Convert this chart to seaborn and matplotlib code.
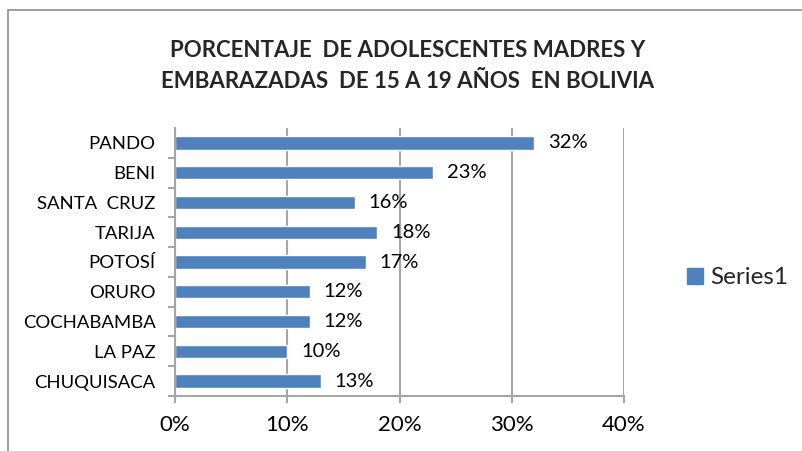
import numpy as np
import pandas as pd
import matplotlib
matplotlib.use("Agg")
import matplotlib.pyplot as plt
import seaborn as sns
from matplotlib.patches import Rectangle, Patch
from matplotlib.ticker import FuncFormatter

# datos (de arriba hacia abajo)
departamentos = ["PANDO", "BENI", "SANTA  CRUZ", "TARIJA", "POTOSÍ",
                 "ORURO", "COCHABAMBA", "LA PAZ", "CHUQUISACA"]
porcentajes = [32, 23, 16, 18, 17, 12, 12, 10, 13]
xticks = [0, 10, 20, 30, 40]
titulo = "PORCENTAJE  DE ADOLESCENTES MADRES Y\nEMBARAZADAS  DE 15 A 19 AÑOS  EN BOLIVIA"

df = pd.DataFrame({"departamento": departamentos, "porcentaje": porcentajes})

sns.set_theme(style="white")
plt.rcParams['font.family'] = ['Lato', 'DejaVu Sans']

azul = "#4F81BD"
gris = "#A6A6A6"

fig = plt.figure(figsize=(8.02, 4.51), dpi=100)
ax = fig.add_axes([175/802, 1-396/451, (624-175)/802, (396-128)/451])

sns.barplot(data=df, x="porcentaje", y="departamento", color=azul,
            width=0.45, saturation=1, ax=ax)

ax.set_xlim(0, 40)
ax.set_ylim(len(departamentos) - 0.5, -0.5)
ax.set_xticks(xticks)
ax.xaxis.set_major_formatter(FuncFormatter(lambda v, p: f"{int(v)}%"))
ax.set_xlabel("")
ax.set_ylabel("")

# rejilla vertical
ax.grid(axis="x", color=gris, linewidth=1.5)
ax.set_axisbelow(True)
for s in ["top", "right"]:
    ax.spines[s].set_visible(False)
for s in ["left", "bottom"]:
    ax.spines[s].set_color(gris)
    ax.spines[s].set_linewidth(1.5)

# marcas entre categorías (estilo Excel)
ax.set_yticks(np.arange(len(departamentos)) + 0.5, minor=True)
ax.tick_params(axis="y", which="major", length=0, pad=14, labelsize=13.3, labelcolor="black")
ax.tick_params(axis="y", which="minor", length=5, width=1.5, color=gris, direction="out", left=True)
ax.tick_params(axis="x", length=5, width=1.5, color=gris, direction="out", bottom=True,
               labelsize=16, pad=9, labelcolor="black")

ax.bar_label(ax.containers[0], labels=[f"{v}%" for v in porcentajes],
             padding=10, fontsize=14.5, color="black")

fig.text(408/802, 1-66/451, titulo, ha="center", va="center",
         fontsize=16, fontweight="bold", linespacing=1.6)

leg = fig.legend(handles=[Patch(color=azul, label="Series1")],
                 loc="center left", bbox_to_anchor=(687/802, 1-278/451),
                 frameon=False, fontsize=17.5, handlelength=0.65, handleheight=0.65,
                 handletextpad=0.3, borderpad=0, borderaxespad=0)

# marco del gráfico
fig.patches.append(Rectangle((8/802, -0.1), 1.2, 1.1 - 10/451, transform=fig.transFigure,
                             fill=False, edgecolor="#8C8C8C", linewidth=1.2))

fig.savefig("out.png", dpi=100)
